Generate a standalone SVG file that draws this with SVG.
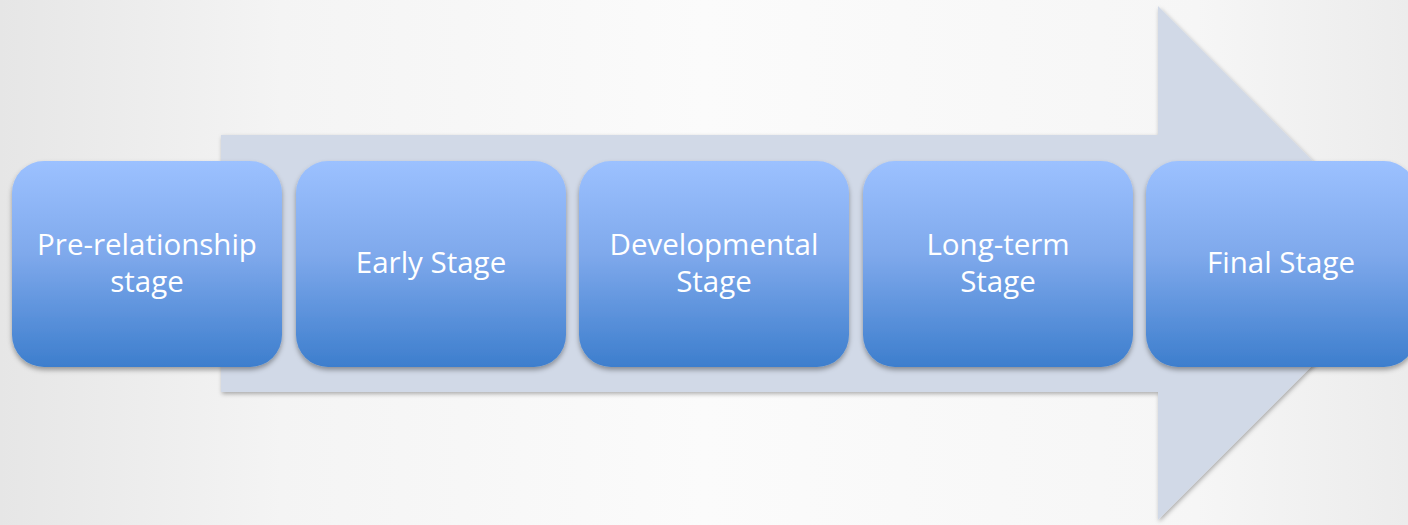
<svg xmlns="http://www.w3.org/2000/svg" width="1408" height="525" viewBox="0 0 1408 525">
<defs>
<linearGradient id="bg" x1="0" y1="0" x2="1" y2="0">
<stop offset="0" stop-color="#e6e6e6"/>
<stop offset="0.2" stop-color="#f4f4f4"/>
<stop offset="0.5" stop-color="#fbfbfb"/>
<stop offset="0.85" stop-color="#f6f6f6"/>
<stop offset="1" stop-color="#ececec"/>
</linearGradient>
<linearGradient id="box" x1="0" y1="0" x2="0" y2="1">
<stop offset="0" stop-color="#9cc1ff"/>
<stop offset="0.45" stop-color="#7fa9ec"/>
<stop offset="1" stop-color="#3d7ecd"/>
</linearGradient>
<filter id="sh" x="-10%" y="-10%" width="120%" height="125%">
<feDropShadow dx="0" dy="3" stdDeviation="2.5" flood-color="#000" flood-opacity="0.35"/>
</filter>
<filter id="ash" x="-5%" y="-5%" width="110%" height="110%">
<feDropShadow dx="1" dy="2" stdDeviation="2" flood-color="#000" flood-opacity="0.3"/>
</filter>
<style>
.node rect{fill:url(#box);filter:url(#sh)}
.node text{font-family:"Open Sans","Liberation Sans",sans-serif;font-size:29.5px;fill:#fff;text-anchor:middle}
</style>
</defs>
<rect width="1408" height="525" fill="url(#bg)"/>
<g id="connectors">
<polygon points="221,135 1158,135 1158,6 1415,263 1158,520 1158,392 221,392" fill="#d1d9e7" filter="url(#ash)"/>
</g>
<g id="n1" class="node">
<rect x="12" y="161" width="270" height="206" rx="32"/>
<text x="147" y="255">Pre-relationship</text>
<text x="147" y="292">stage</text>
</g>
<g id="n2" class="node">
<rect x="296" y="161" width="270" height="206" rx="32"/>
<text x="431" y="273">Early Stage</text>
</g>
<g id="n3" class="node">
<rect x="579" y="161" width="270" height="206" rx="32"/>
<text x="714" y="255">Developmental</text>
<text x="714" y="292">Stage</text>
</g>
<g id="n4" class="node">
<rect x="863" y="161" width="270" height="206" rx="32"/>
<text x="998" y="255">Long-term</text>
<text x="998" y="292">Stage</text>
</g>
<g id="n5" class="node">
<rect x="1146" y="161" width="270" height="206" rx="32"/>
<text x="1281" y="273">Final Stage</text>
</g>
</svg>
